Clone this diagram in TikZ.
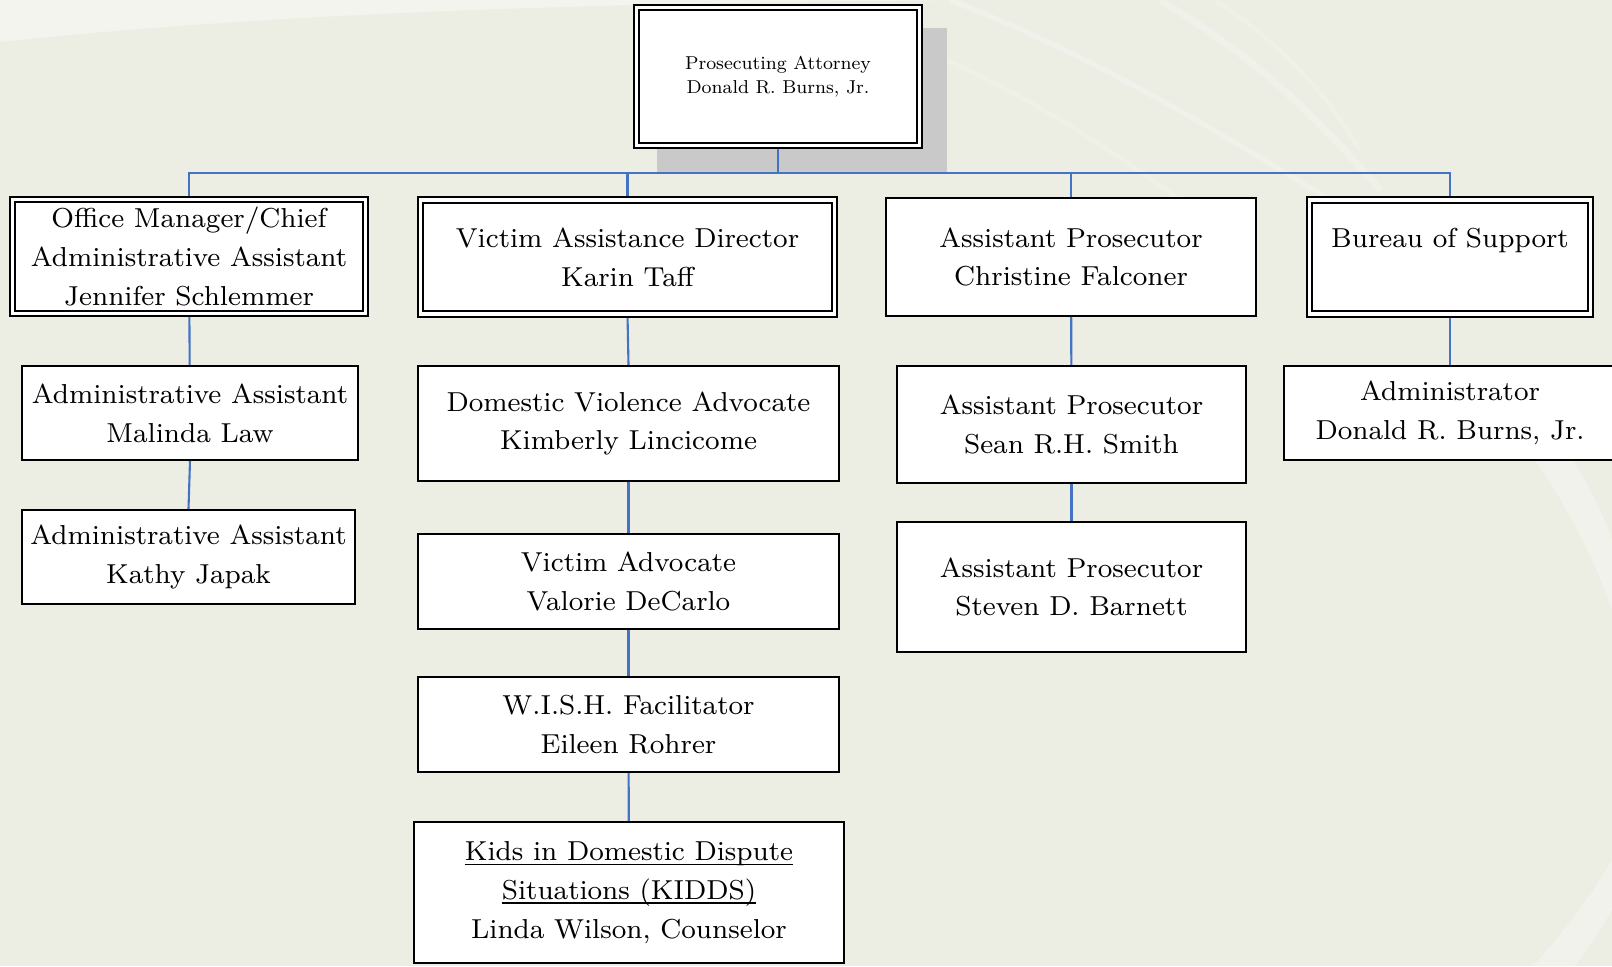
\documentclass[tikz,border=0pt]{standalone}
\usetikzlibrary{backgrounds}
\definecolor{pagebg}{HTML}{ECEEE4}
\definecolor{swoosh}{HTML}{F3F4EE}
\definecolor{linkblue}{HTML}{4472C4}
\definecolor{shadowgrey}{HTML}{C9C9C9}
\newsavebox\ulinebox
\newcommand{\lowul}[1]{\sbox\ulinebox{#1}\rlap{\rule[-1.3pt]{\wd\ulinebox}{0.45pt}}\usebox\ulinebox}
\tikzset{
  box/.style={draw, line width=0.6pt, fill=white, align=center, inner sep=0pt,
    font=\fontsize{7.8}{11}\selectfont},
  dbox/.style={box, double, double distance=1pt, line width=0.55pt},
  link/.style={draw=linkblue, line width=0.6pt},
}
\begin{document}
\begin{tikzpicture}[x=0.01cm, y=-0.01cm]
        \useasboundingbox (0,0) rectangle (1612,966);
        % top
        \node[dbox, minimum width=2.826cm, minimum height=1.376cm, font=\fontsize{7.8}{10.1}\selectfont] (pa) at (778,76.5) {\scalebox{0.68}{\begin{tabular}{@{}c@{}}Prosecuting Attorney\\Donald R. Burns, Jr.\end{tabular}}};
        % first row
        \node[dbox, minimum width=3.526cm, minimum height=1.136cm] (om) at (189,256.5) {Office Manager/Chief\\Administrative Assistant\\Jennifer Schlemmer};
        \node[dbox, minimum width=4.136cm, minimum height=1.136cm] (vad) at (627.5,257) {Victim Assistance Director\\Karin Taff};
        \node[box, minimum width=3.70cm, minimum height=1.18cm] (apf) at (1071,257) {Assistant Prosecutor\\Christine Falconer};
        \node[dbox, minimum width=2.806cm, minimum height=1.136cm] (bos) at (1450,257) {Bureau of Support\\\mbox{}};
        % office staff
        \node[box, minimum width=3.36cm, minimum height=0.94cm] (ml) at (190,413) {Administrative Assistant\\Malinda Law};
        \node[box, minimum width=3.33cm, minimum height=0.94cm] (kj) at (188.5,557) {Administrative Assistant\\Kathy Japak};
        % victim assistance
        \node[box, minimum width=4.21cm, minimum height=1.15cm] (dva) at (628.5,423.5) {Domestic Violence Advocate\\Kimberly Lincicome};
        \node[box, minimum width=4.21cm, minimum height=0.95cm] (va) at (628.5,581.5) {Victim Advocate\\Valorie DeCarlo};
        \node[box, minimum width=4.21cm, minimum height=0.95cm] (wish) at (628.5,724.5) {W.I.S.H. Facilitator\\Eileen Rohrer};
        \node[box, minimum width=4.30cm, minimum height=1.41cm] (kidds) at (629,892.5) {\lowul{Kids in Domestic Dispute}\\\lowul{Situations (KIDDS)}\\Linda Wilson, Counselor};
        % prosecutors
        \node[box, minimum width=3.49cm, minimum height=1.17cm] (ss) at (1071.5,424.5) {Assistant Prosecutor\\Sean R.H. Smith};
        \node[box, minimum width=3.49cm, minimum height=1.30cm] (sb) at (1071.5,587) {Assistant Prosecutor\\Steven D. Barnett};
        % support
        \node[box, minimum width=3.32cm, minimum height=0.94cm] (adm) at (1450,413) {Administrator\\Donald R. Burns, Jr.};
        \coordinate (bus) at (778,173);
        \begin{scope}[on background layer]
        \fill[pagebg] (0,0) rectangle (1612,966);
        \fill[swoosh] (0,0) -- (0,42) .. controls (300,10) and (650,2) .. (1000,0) -- cycle;
        \draw[swoosh, opacity=0.6, line width=1.5pt] (950,0) .. controls (1080,50) and (1200,120) .. (1330,200);
        \draw[swoosh, opacity=0.5, line width=1.2pt] (900,40) .. controls (1000,80) and (1100,140) .. (1180,200);
        \draw[swoosh, opacity=0.6, line width=2pt] (1160,0) .. controls (1260,60) and (1320,120) .. (1380,190);
        \draw[swoosh, opacity=0.5, line width=1.2pt] (1215,0) .. controls (1290,50) and (1330,100) .. (1360,150);
        \fill[swoosh, opacity=0.8] (1520,440) .. controls (1560,490) and (1595,560) .. (1612,610) -- (1612,540) .. controls (1600,505) and (1580,470) .. (1560,440) -- cycle;
        \fill[swoosh, opacity=0.8] (1533,966) .. controls (1570,925) and (1595,890) .. (1612,860) -- (1612,910) .. controls (1600,930) and (1588,948) .. (1575,966) -- cycle;
        \fill[shadowgrey] (657,28) rectangle (947,172);
        \draw[link] (pa) -- (bus);
        \draw[link] (om.north) |- (bus) -| (bos.north);
        \draw[link] (vad.north) -- (vad.north |- bus);
        \draw[link] (apf.north) -- (apf.north |- bus);
        \draw[link] (om) -- (ml);
        \draw[link] (ml.south) -- (kj.north);
        \draw[link] (vad.south) -- (dva.north);
        \draw[link] (dva) -- (va);
        \draw[link] (va) -- (wish);
        \draw[link] (wish) -- (kidds);
        \draw[link] (apf) -- (ss);
        \draw[link] (ss) -- (sb);
        \draw[link] (bos) -- (adm);
        \end{scope}
        \end{tikzpicture}
\end{document}
